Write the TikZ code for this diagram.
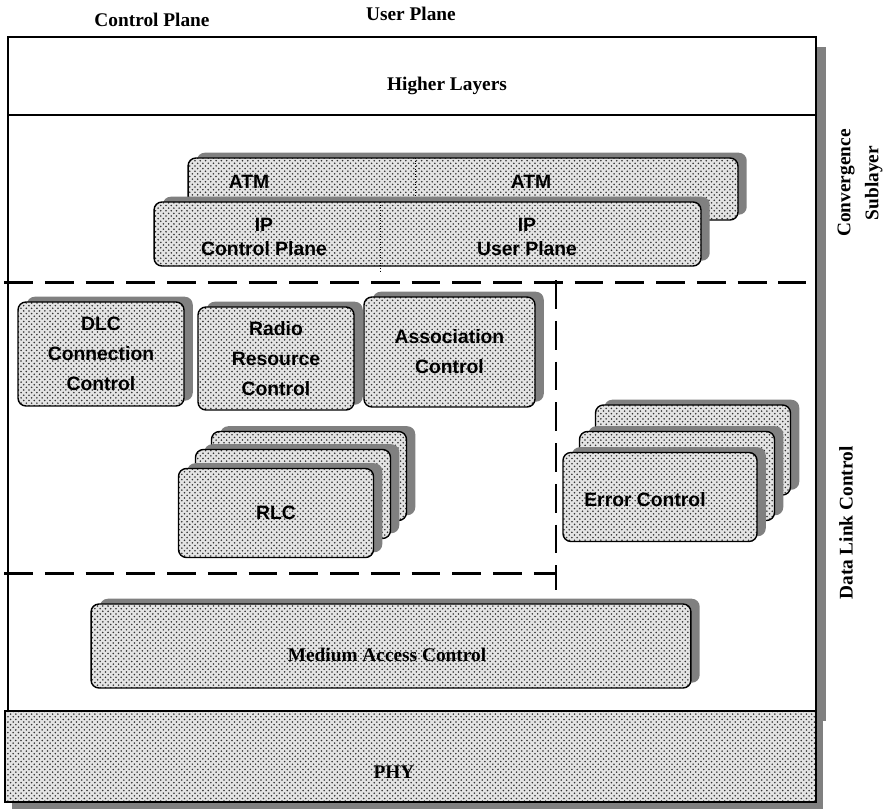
\documentclass[tikz,border=0pt]{standalone}
\usepackage{fontspec}
\setmainfont{Liberation Serif}
\setsansfont{Liberation Sans}
\usetikzlibrary{shadows,patterns}

\definecolor{shade}{HTML}{808080}
\definecolor{dotback}{HTML}{E4E4E4}

\tikzset{
  layerbox/.style={draw, line width=0.8pt, rounded corners=4.5pt,
    drop shadow={shadow xshift=5pt, shadow yshift=3pt, fill=shade, opacity=1},
    preaction={fill=dotback}, pattern=crosshatch dots, pattern color=black!80,
    inner sep=0pt},
  phybox/.style={draw, line width=1pt,
    drop shadow={shadow xshift=4pt, shadow yshift=-4pt, fill=shade, opacity=1},
    preaction={fill=dotback}, pattern=crosshatch dots, pattern color=black!80,
    inner sep=0pt},
  sanslabel/.style={font=\sffamily\bfseries\fontsize{11}{17}\selectfont, align=center},
  seriflabel/.style={font=\bfseries\fontsize{11}{16}\selectfont, align=center},
  planedash/.style={line width=1.7pt, dash pattern=on 16.4pt off 6.8pt},
  divider/.style={densely dotted, line width=0.5pt}
}

\begin{document}
\begin{tikzpicture}[x=0.02cm, y=-0.02cm]
    \useasboundingbox (0,0) rectangle (896,809);

    % Frame of the stack
    \draw[line width=1.1pt, fill=white,
      drop shadow={shadow xshift=5.7pt, shadow yshift=-5.7pt, fill=shade, opacity=1}]
      (8,37) rectangle (816,711);
    \draw[line width=1.1pt] (8,115) -- (816,115);

    % Plane borders
    \draw[planedash] (4,282) -- (806,282);
    \draw[planedash] (4,573) -- (556,573);
    \draw[planedash] (556,280) -- (556,590);

    % Convergence sublayer
    \node[layerbox, minimum width=11cm, minimum height=1.24cm] (atm) at (463,189) {};
    \draw[divider] (415,158) -- (415,202);
    \node[layerbox, minimum width=10.94cm, minimum height=1.28cm] (ip) at (427.5,234) {};
    \draw[divider] (380,202) -- (380,272);

    \node[sanslabel] (atmctrl) at (249,182) {ATM};
    \node[sanslabel] (atmuser) at (531,182) {ATM};
    \node[sanslabel, font=\sffamily\bfseries\fontsize{11}{14}\selectfont] (ipctrl) at (264,237) {IP\\Control Plane};
    \node[sanslabel, font=\sffamily\bfseries\fontsize{11}{14}\selectfont] (ipuser) at (527,237) {IP\\User Plane};

    % Control plane entities
    \node[layerbox, sanslabel, minimum width=3.32cm, minimum height=2.08cm] (dlcc) at (101,354) {DLC\\Connection\\Control};
    \node[layerbox, sanslabel, minimum width=3.12cm, minimum height=2.06cm] (rrc) at (276,358.5) {Radio\\Resource\\Control};
    \node[layerbox, sanslabel, minimum width=3.42cm, minimum height=2.2cm] (assoc) at (449.5,352) {Association\\Control};

    % RLC instances
    \node[layerbox, minimum width=3.9cm, minimum height=1.78cm] (rlcback) at (309,476) {};
    \node[layerbox, minimum width=3.9cm, minimum height=1.78cm] (rlcmid) at (293,494) {};
    \node[layerbox, sanslabel, minimum width=3.9cm, minimum height=1.78cm] (rlc) at (276,513) {RLC};

    % Error control instances
    \node[layerbox, minimum width=3.9cm, minimum height=1.8cm] (ecback) at (693,450) {};
    \node[layerbox, minimum width=3.9cm, minimum height=1.78cm] (ecmid) at (677,476) {};
    \node[layerbox, minimum width=3.88cm, minimum height=1.78cm] (ec) at (660,497) {};
    \node[sanslabel] (ectext) at (645,500) {Error Control};

    % MAC and PHY
    \node[layerbox, minimum width=12cm, minimum height=1.68cm] (mac) at (391,646) {};
    \node[seriflabel] (mactext) at (387,655) {Medium Access Control};
    \node[phybox, minimum width=16.22cm, minimum height=1.82cm] (phy) at (410.5,756.5) {};
    \node[seriflabel] (phytext) at (394,772) {PHY};

    % Headings
    \node[seriflabel] (ctrlplane) at (152,20) {Control Plane};
    \node[seriflabel] (userplane) at (411,14) {User Plane};
    \node[seriflabel] (higher) at (447,86) {Higher Layers};
    \node[seriflabel, rotate=90] (convsub) at (860,183) {Convergence\\Sublayer};
    \node[seriflabel, rotate=90] (dlctrl) at (846,523) {Data Link Control};
\end{tikzpicture}
\end{document}
